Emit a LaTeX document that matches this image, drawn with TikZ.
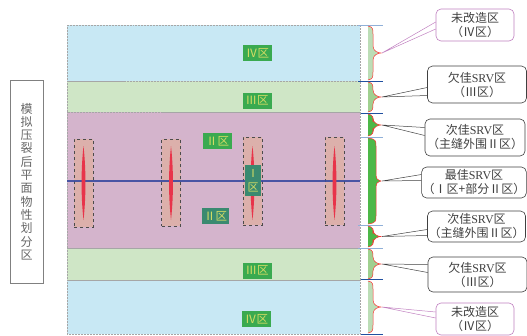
\documentclass[tikz,border=0pt]{standalone}
\usepackage{fontspec}
\setmainfont{Liberation Serif}
\newfontfamily\cjk{Noto Sans CJK SC}
\usetikzlibrary{calc}
\definecolor{bandblue}{HTML}{C8E8F4}
\definecolor{bandgreen}{HTML}{CFE6C6}
\definecolor{bandpurple}{HTML}{D4B4CC}
\definecolor{fracfill}{HTML}{DCB0AB}
\definecolor{fracred}{HTML}{E8344A}
\definecolor{wellblue}{HTML}{3A4AA0}
\definecolor{labgreen}{HTML}{3AAA50}
\definecolor{labteal}{HTML}{3A8A70}
\definecolor{labtext}{HTML}{D4DC64}
\definecolor{brlight}{HTML}{BCDDB6}
\definecolor{brmid}{HTML}{A0D090}
\definecolor{brbright}{HTML}{4CB848}
\definecolor{tickdark}{HTML}{2050A0}
\definecolor{ticklight}{HTML}{90B0D8}
\definecolor{calpink}{HTML}{C080C0}
\definecolor{calgray}{HTML}{404040}
\tikzset{
  band/.style={draw=gray!70, densely dotted, line width=0.5pt},
  fracbox/.style={draw=black!70, dashed, fill=fracfill, line width=0.5pt, minimum width=19pt, minimum height=88pt, inner sep=0pt},
  zonelab/.style={fill=labgreen, text=labtext, inner sep=0pt, minimum width=29pt, minimum height=16pt, font=\cjk\fontsize{11.5}{12}\selectfont},
  zoneteal/.style={zonelab, fill=labteal},
  callout/.style={draw=calgray, fill=white, rounded corners=5pt, line width=0.6pt, inner sep=1pt, align=center, text=black!75, font=\cjk\fontsize{12}{14}\selectfont},
  calloutpink/.style={callout, draw=calpink},
  ptr/.style={draw=calgray, line width=0.5pt},
  ptrpink/.style={draw=calpink, line width=0.5pt},
  tickd/.style={draw=tickdark, line width=0.8pt},
  tickl/.style={draw=ticklight, line width=0.8pt},
}
% #1 top, #2 bottom, #3 fill, #4 tip name, #5 body x
\newcommand\srvbrace[5]{%
  \pgfmathsetmacro\bm{(#1+#2)/2}%
  \fill[#3] (368,#1+1) .. controls (#5,#1+2) and (#5,#1+4) .. (#5,#1+9) -- (#5,\bm-7) .. controls (#5,\bm-2) and (378,\bm) .. (381,\bm) .. controls (378,\bm) and (#5,\bm+2) .. (#5,\bm+7) -- (#5,#2-9) .. controls (#5,#2-4) and (#5,#2-2) .. (368,#2-1) -- cycle;
  \draw[red!80, line width=0.5pt] (368,#1+1) .. controls (#5,#1+2) and (#5,#1+4) .. (#5,#1+9) -- (#5,\bm-7) .. controls (#5,\bm-2) and (378,\bm) .. (381,\bm) .. controls (378,\bm) and (#5,\bm+2) .. (#5,\bm+7) -- (#5,#2-9) .. controls (#5,#2-4) and (#5,#2-2) .. (368,#2-1);
  \coordinate (#4) at (382,\bm);%
}
\begin{document}
\begin{tikzpicture}[x=1pt,y=-1pt]
\useasboundingbox (0,0) rectangle (527,335);
% bands
\fill[bandblue] (67,25) rectangle (360,81);
\fill[bandgreen] (67,81) rectangle (360,112);
\fill[bandpurple] (67,112) rectangle (360,248);
\fill[bandgreen] (67,248) rectangle (360,280);
\fill[bandblue] (67,280) rectangle (360,334);
\draw[band] (67,25) rectangle (360,81);
\draw[band] (67,81) rectangle (360,112);
\draw[band] (67,112) rectangle (360,248);
\draw[band] (67,248) rectangle (360,280);
\draw[band] (67,280) rectangle (360,334);
% fracture boxes
\node[fracbox] (f1) at (83.5,183) {};
\node[fracbox, minimum height=87pt] (f2) at (171,182.5) {};
\node[fracbox, minimum height=88pt] (f3) at (252.5,181) {};
\node[fracbox, minimum height=88pt] (f4) at (334.5,181) {};
% wellbore
\coordinate (wl) at (67,181);
\coordinate (wr) at (360,181);
\draw[wellblue, line width=2.8pt, opacity=0.9] (wl) -- (wr);
% fractures
\foreach \n/\x in {1/83.5,2/171,3/252.5,4/334.5}{
  \fill[fracred] (\x,146) .. controls (\x+2.6,170) and (\x+2.6,196) .. (\x,220) .. controls (\x-2.6,196) and (\x-2.6,170) .. (\x,146) -- cycle;
}
% zone labels
\node[zonelab] (z4t) at (257.5,53) {Ⅳ区};
\node[zonelab] (z3t) at (257,100.5) {Ⅲ区};
\node[zonelab] (z2t) at (217.5,141) {Ⅱ区};
\node[zoneteal, minimum width=27pt] (z2b) at (215.5,216) {Ⅱ区};
\node[zoneteal, minimum width=16pt, minimum height=31pt, align=center, font=\cjk\fontsize{11}{14}\selectfont] (z1) at (253,180.5) {Ⅰ\\区};
\node[zonelab] (z3b) at (257,270.5) {Ⅲ区};
\node[zonelab] (z4b) at (256.5,319) {Ⅳ区};
% left title box
\node[draw=gray, fill=white, line width=0.6pt, minimum width=33pt, minimum height=203pt, inner sep=0pt, align=center, text=black!60, font=\cjk\fontsize{12}{13.3}\selectfont] (title) at (26.5,181.5) {模\\拟\\压\\裂\\后\\平\\面\\物\\性\\划\\分\\区};
% ticks
\draw[tickl] (358,25) -- (383,25);
\draw[tickd] (358,81) -- (383,81);
\draw[tickd] (361,113) -- (383,113);
\draw[tickl] (361,137) -- (383,137);
\draw[tickl] (358,225) -- (383,225);
\draw[tickl] (358,248) -- (383,248);
\draw[tickd] (361,279) -- (383,279);
\draw[tickd] (361,334) -- (383,334);
% braces
\srvbrace{25}{81}{brlight}{b1}{373}
\srvbrace{81}{113}{brmid}{b2}{373}
\srvbrace{113}{137}{brbright}{b3}{373}
\srvbrace{137}{225}{brbright}{b4}{376}
\srvbrace{225}{248}{brbright}{b5}{373}
\srvbrace{248}{280}{brmid}{b6}{373}
\srvbrace{280}{334}{brlight}{b7}{373}
% callouts
\node[calloutpink, minimum width=78pt, minimum height=32pt] (c1) at (475,25) {未改造区\\（Ⅳ区）};
\node[callout, minimum width=99pt, minimum height=37pt] (c2) at (477,84.5) {欠佳{\rmfamily SRV}区\\（Ⅲ区）};
\node[callout, minimum width=100pt, minimum height=37pt] (c3) at (475,137.5) {次佳{\rmfamily SRV}区\\（主缝外围Ⅱ区）};
\node[callout, minimum width=102pt, minimum height=31pt] (c4) at (474,182.5) {最佳{\rmfamily SRV}区\\（Ⅰ区+部分Ⅱ区）};
\node[callout, minimum width=97pt, minimum height=31pt] (c5) at (476.5,226.5) {次佳{\rmfamily SRV}区\\（主缝外围Ⅱ区）};
\node[callout, minimum width=99pt, minimum height=35pt] (c6) at (477.5,274.5) {欠佳{\rmfamily SRV}区\\（Ⅲ区）};
\node[calloutpink, minimum width=78pt, minimum height=32pt] (c7) at (475,319) {未改造区\\（Ⅳ区）};
% pointers
\draw[ptrpink] ($(c1.west)+(0,-3)$) -- (b1) -- ($(c1.west)+(0,4)$);
\draw[ptr] ($(c2.west)+(0,3)$) -- (b2) -- ($(c2.west)+(0,11)$);
\draw[ptr] ($(c3.west)+(0,-10)$) -- (b3) -- ($(c3.west)+(0,-2)$);
\draw[ptr] ($(c4.west)+(0,-8)$) -- (b4) -- ($(c4.west)+(0,-2)$);
\draw[ptr] ($(c5.west)+(0,3)$) -- (b5) -- ($(c5.west)+(0,9)$);
\draw[ptr] ($(c6.west)+(0,-10)$) -- (b6) -- ($(c6.west)+(0,-2)$);
\draw[ptrpink] ($(c7.west)+(0,-7)$) -- (b7) -- ($(c7.west)+(0,-1)$);
\end{tikzpicture}
\end{document}
